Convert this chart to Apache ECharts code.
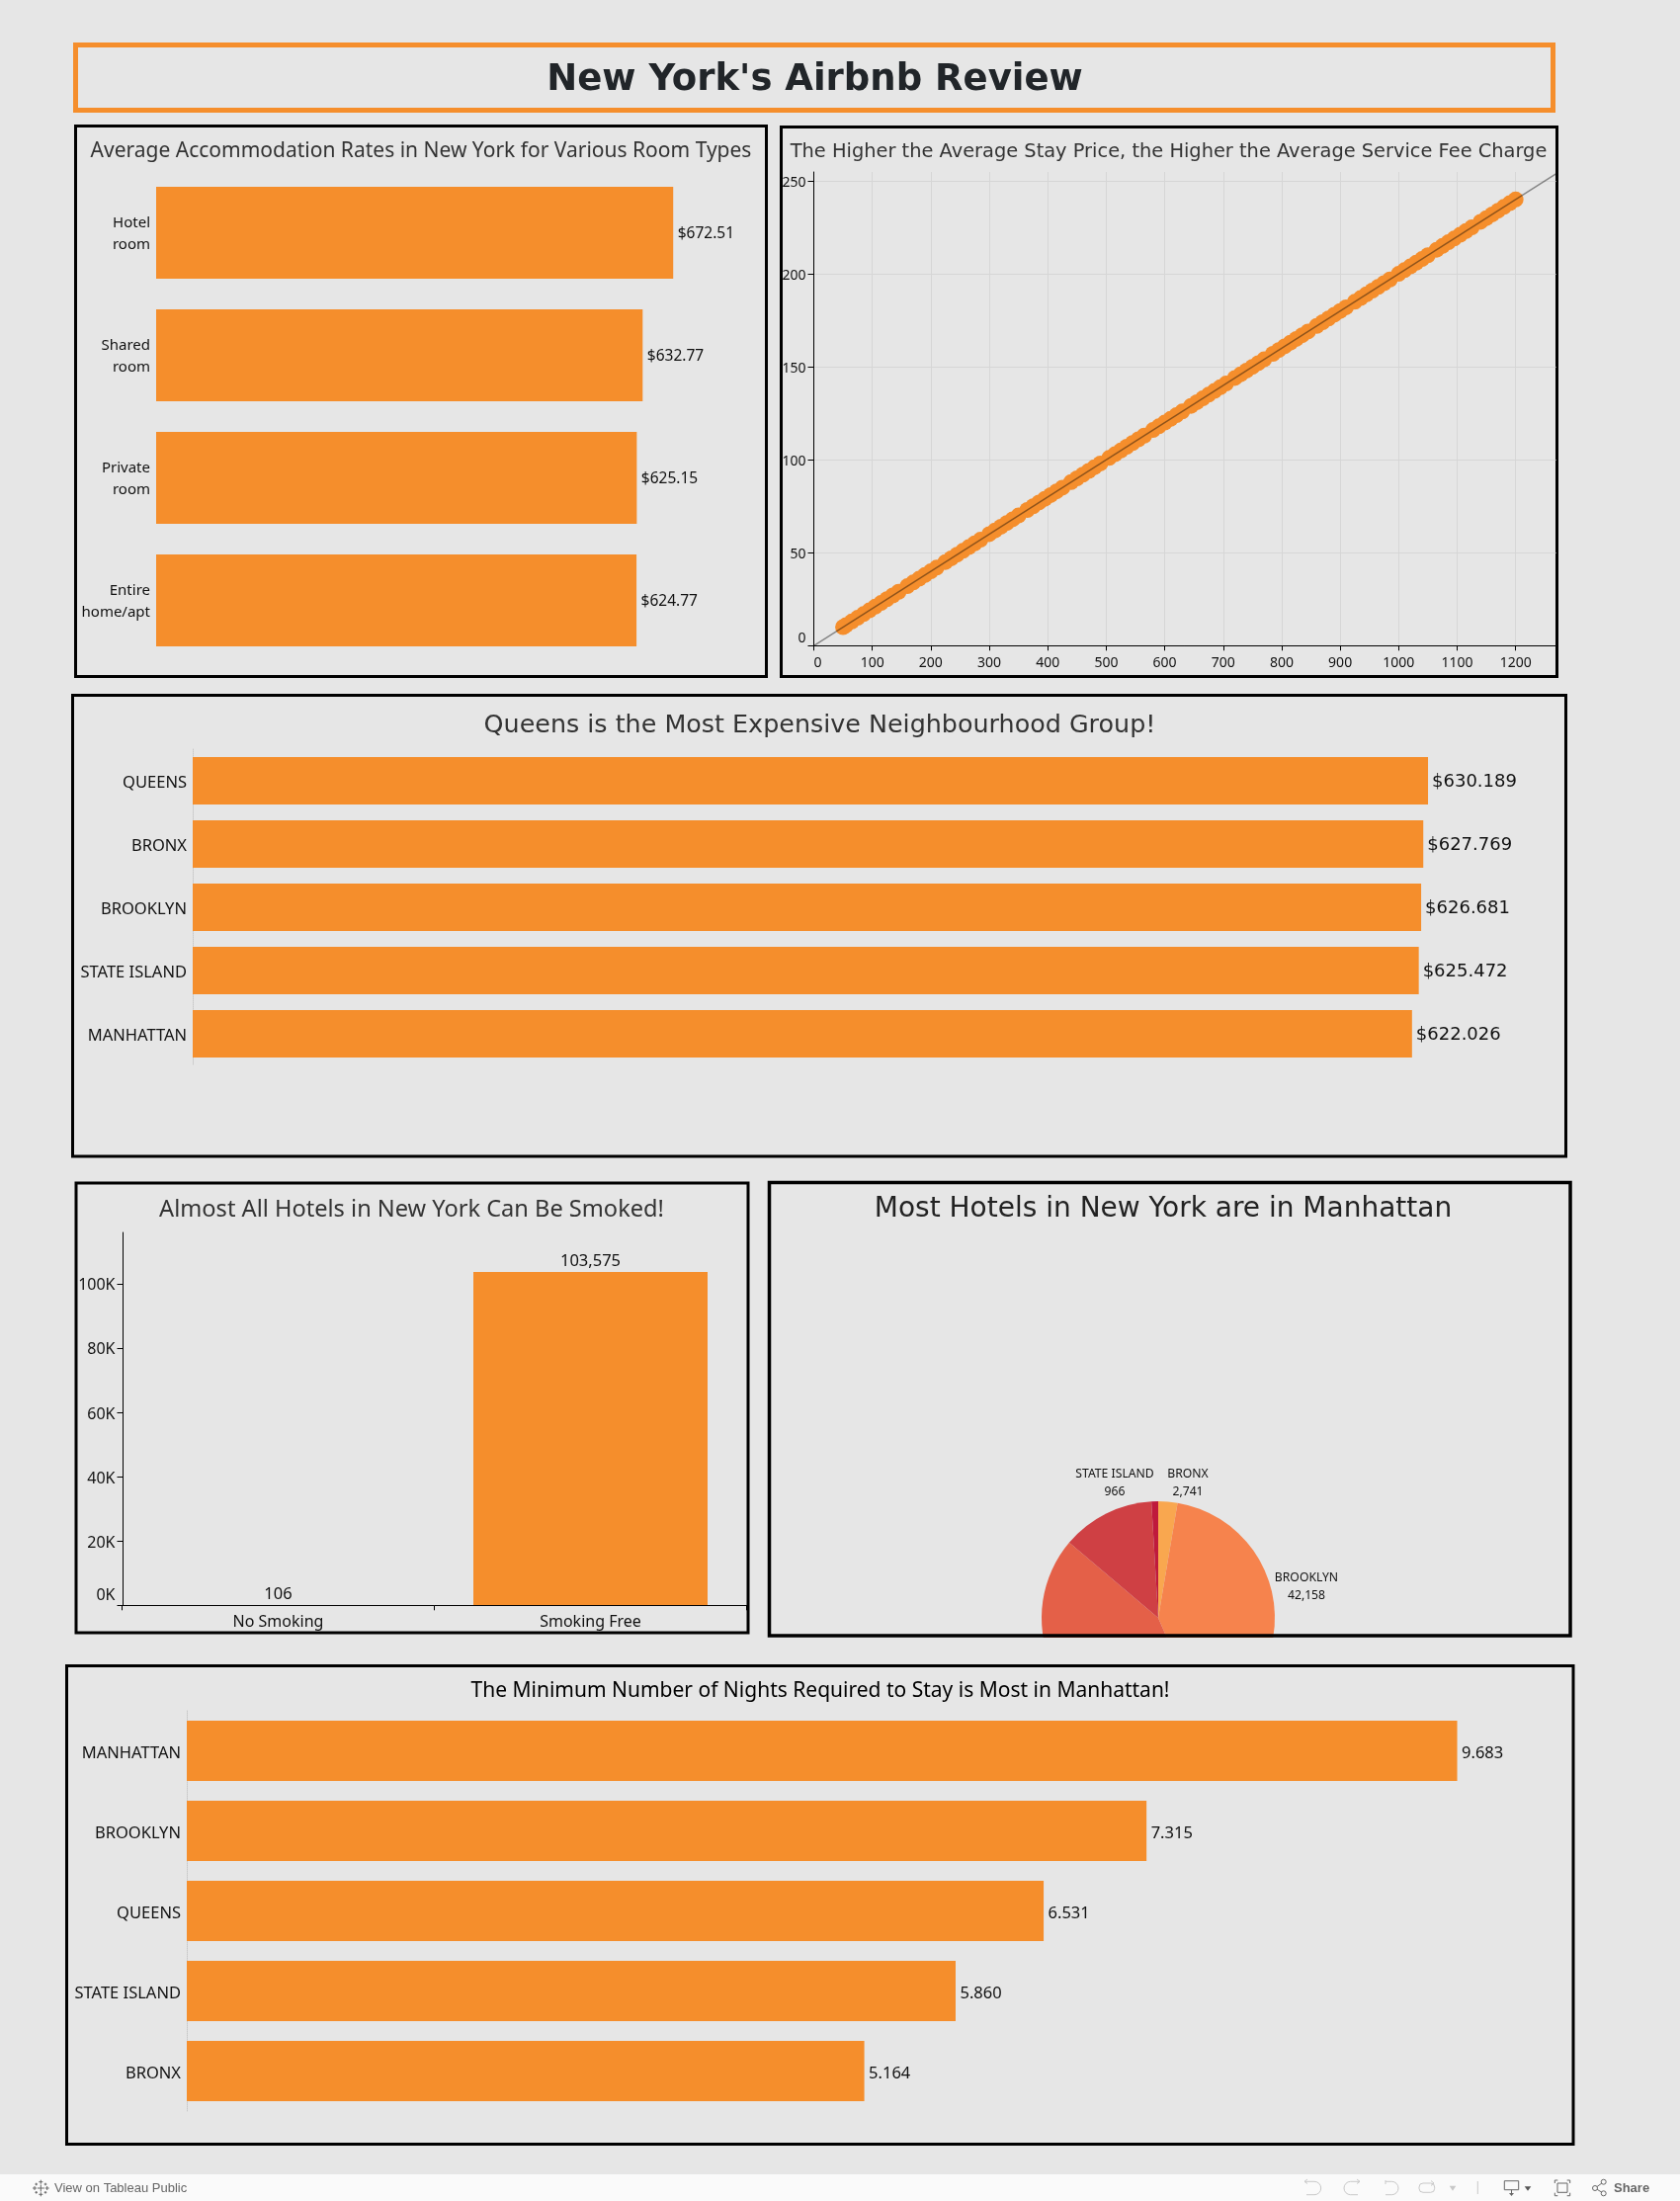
<!DOCTYPE html>
<html><head><meta charset="utf-8">
<style>html,body{margin:0;padding:0;background:#e6e6e6}#c{width:1700px;height:2227px}</style>
<script src="https://cdn.jsdelivr.net/npm/echarts@6/dist/echarts.min.js"></script>
</head><body><div id="c"></div>
<script>
// ---- data ----
const roomTypes = ['Hotel room','Shared room','Private room','Entire home/apt'];
const roomRates = [672.51,632.77,625.15,624.77];

const stayPrice = [50,55,65,75,85,95,105,115,125,135,145,160,170,180,190,200,210,225,235,245,255,265,275,285,300,310,320,330,340,350,365,375,385,395,405,415,425,440,450,460,470,480,490,505,515,525,535,545,555,565,580,590,600,610,620,630,645,655,665,675,685,695,705,720,730,740,750,760,770,785,795,805,815,825,835,845,860,870,880,890,900,910,925,935,945,955,965,975,985,1000,1010,1020,1030,1040,1050,1065,1075,1085,1095,1105,1115,1125,1140,1150,1160,1170,1180,1190,1200];
const serviceFee = [10,11,13,15,17,19,21,23,25,27,29,32,34,36,38,40,42,45,47,49,51,53,55,57,60,62,64,66,68,70,73,75,77,79,81,83,85,88,90,92,94,96,98,101,103,105,107,109,111,113,116,118,120,122,124,126,129,131,133,135,137,139,141,144,146,148,150,152,154,157,159,161,163,165,167,169,172,174,176,178,180,182,185,187,189,191,193,195,197,200,202,204,206,208,210,213,215,217,219,221,223,225,228,230,232,234,236,238,240];
const trendPrice = [0,1269];
const trendFee = [0,253.8];
const priceTicks = [0,100,200,300,400,500,600,700,800,900,1000,1100,1200];
const feeTicks = [0,50,100,150,200,250];

const groupsByPrice = ['QUEENS','BRONX','BROOKLYN','STATE ISLAND','MANHATTAN'];
const groupPrice = [630.189,627.769,626.681,625.472,622.026];

const smokingTypes = ['No Smoking','Smoking Free'];
const smokingCounts = [106,103575];
const smokingTicks = [0,20000,40000,60000,80000,100000];

const pieGroups = ['BRONX','BROOKLYN','MANHATTAN','QUEENS','STATE ISLAND'];
const pieCounts = [2741,42158,44100,13300,966];
const pieColors = ['#F9A74F','#F6834D','#E46048','#CF4044','#BF1A3C'];
const pieLabelled = ['BRONX','BROOKLYN','STATE ISLAND'];

const groupsByNights = ['MANHATTAN','BROOKLYN','QUEENS','STATE ISLAND','BRONX'];
const minNights = [9.683,7.315,6.531,5.860,5.164];

// ---- style ----
const ORANGE='#F58E2C', BG='#E6E6E6', NOTO='"Noto Sans"', DEJA='"DejaVu Sans"', UI='"Liberation Sans"';
const fmtInt=v=>v.toLocaleString('en-US');

function panel(x0,y0,x1,y1,color,lw){
  return {type:'rect',shape:{x:x0,y:y0,width:x1-x0,height:y1-y0},
    style:{fill:BG,stroke:color||'#000',lineWidth:lw||3}};
}
function head(text,cx,cy,font,size,color,weight){
  return {text,left:cx,top:cy,textAlign:'center',textVerticalAlign:'middle',padding:0,
    textStyle:{fontFamily:font,fontSize:size,color,fontWeight:weight||'normal'}};
}
function hbar(gridIndex,cats,vals,labelFont,labelSize,labelFmt,catSize,catFmt,axisDots,barW,labelDist,catTop,labelDrop){
  return {
    y:{type:'category',gridIndex,data:cats,inverse:true,
       axisTick:{show:false},
       axisLine:axisDots?{show:true,lineStyle:{color:'#c8c8c8',type:'dotted',width:1}}:{show:false},
       axisLabel:{fontFamily:NOTO,fontSize:catSize,color:'#111',margin:6,align:'right',verticalAlign:'top',lineHeight:22,
         interval:0,padding:[catTop,0,0,0],formatter:catFmt}},
    s:{type:'bar',xAxisIndex:gridIndex,yAxisIndex:gridIndex,data:vals,barWidth:barW,
       itemStyle:{color:ORANGE},
       label:{show:true,position:'right',distance:labelDist,offset:[0,labelDrop],fontFamily:labelFont,fontSize:labelSize,color:'#111',formatter:p=>labelFmt(p.value)}}
  };
}
// footer icon helpers
const ln=(pts,c,w)=>({type:'polyline',shape:{points:pts},style:{stroke:c,lineWidth:w||1,fill:'none'}});
const arc=(cx,cy,r,a0,a1,c)=>({type:'arc',shape:{cx,cy,r,startAngle:a0,endAngle:a1,clockwise:true},style:{stroke:c,lineWidth:1,fill:'none'}});
const tri=(x0,x1,y0,y1,c)=>({type:'polygon',shape:{points:[[x0,y0],[x1,y0],[(x0+x1)/2,y1]]},style:{fill:c}});
const box=(x0,y0,x1,y1,c,r)=>({type:'rect',shape:{x:x0,y:y0,width:x1-x0,height:y1-y0,r:r||0},style:{stroke:c,lineWidth:1,fill:'none'}});
const circ=(cx,cy,r,c)=>({type:'circle',shape:{cx,cy,r},style:{stroke:c,lineWidth:1,fill:'#FAFAFA'}});
const plus=(cx,cy,a,c)=>[ln([[cx-a,cy],[cx+a,cy]],c),ln([[cx,cy-a],[cx,cy+a]],c)];
const LG='#C8C8C8', DG='#666666', PI=Math.PI;
const footerIcons=[
  ...plus(41.3,2214,3.5,DG),...plus(41.3,2207.7,2,DG),...plus(41.3,2220.3,2,DG),...plus(35,2214,2,DG),...plus(47.7,2214,2,DG),
  ...plus(36.7,2210,1.3,DG),...plus(46,2210,1.3,DG),...plus(36.7,2218.3,1.3,DG),...plus(46,2218.3,1.3,DG),
  arc(1330,2214,6.7,-PI/2,PI/2,LG),ln([[1320,2207.3],[1330,2207.3]],LG),ln([[1322,2220.7],[1330,2220.7]],LG),ln([[1323,2205],[1320,2207.3],[1323,2209.5]],LG),
  {...arc(1366.7,2214,6.7,PI/2,-PI/2,LG)},ln([[1366.7,2207.3],[1376,2207.3]],LG),ln([[1366.7,2220.7],[1374,2220.7]],LG),ln([[1373,2205],[1376,2207.3],[1373,2209.5]],LG),
  arc(1408.3,2214,6.7,-PI/2,PI/2,LG),ln([[1402,2207.3],[1408.3,2207.3]],LG),ln([[1402,2220.7],[1408.3,2220.7]],LG),ln([[1402,2206],[1402,2210]],LG),
  box(1436,2209,1451.7,2218.3,LG,4),ln([[1448,2206.5],[1451,2209],[1448,2211.5]],LG),
  tri(1466.7,1473.3,2211.7,2216.7,LG),
  ln([[1495.3,2207],[1495.3,2220]],LG),
  box(1522.3,2206.7,1536.7,2215.7,DG),ln([[1529.5,2215.7],[1529.5,2221]],DG),tri(1527,1532,2219,2222,DG),
  tri(1542.7,1549.3,2212.3,2216.7,'#555'),
  ln([[1573.3,2209],[1573.3,2206],[1576.3,2206]],DG),ln([[1585.7,2206],[1588.7,2206],[1588.7,2209]],DG),
  ln([[1573.3,2218.7],[1573.3,2221.7],[1576.3,2221.7]],DG),ln([[1585.7,2221.7],[1588.7,2221.7],[1588.7,2218.7]],DG),
  box(1576,2209,1586,2218.3,DG),
  ln([[1622.7,2207.7],[1614,2214],[1622.7,2219.3]],DG),circ(1614,2214,2.5,DG),circ(1622.7,2207.7,2.5,DG),circ(1622.7,2219.3,2.5,DG)
];

const grids=[
  {left:158,top:173.5,width:583.5,height:496},      // room types
  {left:823.5,top:174,width:751,height:479.3},      // scatter
  {left:195,top:758,width:1388.5,height:320},       // neighbourhood price
  {left:123.5,top:1247,width:632,height:377.3},     // smoking
  {left:189,top:1731,width:1394,height:405}         // nights
];

const b0=hbar(0,roomTypes,roomRates,NOTO,15.5,v=>'$'+v.toFixed(2),15,v=>v==='Entire home/apt'?'Entire\nhome/apt':v.replace(' ','\n'),false,93,4.5,-21,1.5);
const b2=hbar(2,groupsByPrice,groupPrice,DEJA,18,v=>'$'+v.toFixed(3),16.5,v=>v,true,48,4,-9,1.5);
const b4=hbar(4,groupsByNights,minNights,NOTO,16.5,v=>v.toFixed(3),16.5,v=>v,true,61,4.5,-8,3);

const axisBlack={show:true,lineStyle:{color:'#000',width:1}};
const tickBlack={show:true,length:6,lineStyle:{color:'#000',width:1}};
const valueLabelShift=bottomPad=>({verticalAlign:'top',lineHeight:18,padding:[-7,0,bottomPad,0],verticalAlignMinLabel:'bottom'});

const option={
  animation:false,
  backgroundColor:BG,
  title:[
    head("New York's Airbnb Review",824.5,81,DEJA,37,'#212529','bold'),
    head('Average Accommodation Rates in New York for Various Room Types',426,153,NOTO,21,'#333'),
    head('The Higher the Average Stay Price, the Higher the Average Service Fee Charge',1182.5,154,DEJA,19.4,'#333'),
    head('Queens is the Most Expensive Neighbourhood Group!',829.5,734,DEJA,25.4,'#333'),
    head('Almost All Hotels in New York Can Be Smoked!',416.5,1224,NOTO,23.6,'#333'),
    head('Most Hotels in New York are in Manhattan',1177,1224,DEJA,28,'#222'),
    head('The Minimum Number of Nights Required to Stay is Most in Manhattan!',830,1711,NOTO,21,'#000')
  ],
  grid:grids.map(g=>({...g,containLabel:false})),
  xAxis:[
    {type:'value',gridIndex:0,min:0,max:750,show:false},
    {type:'value',gridIndex:1,min:0,max:1269,axisLine:{...axisBlack,onZero:false},
      axisTick:{show:true,length:5,lineStyle:{color:'#000'},customValues:priceTicks},
      axisLabel:{fontFamily:NOTO,fontSize:14,color:'#111',margin:11,customValues:priceTicks,hideOverlap:false,alignMinLabel:'left',formatter:v=>String(v)},
      splitLine:{show:true,lineStyle:{color:'#d6d6d6',width:1}}},
    {type:'value',gridIndex:2,min:0,max:700,show:false},
    {type:'category',gridIndex:3,data:smokingTypes,z:5,
      axisLine:axisBlack,axisTick:{show:true,length:5,alignWithLabel:false,lineStyle:{color:'#000'}},
      axisLabel:{fontFamily:NOTO,fontSize:16,color:'#111',margin:9}},
    {type:'value',gridIndex:4,min:0,max:10.5,show:false}
  ],
  yAxis:[
    b0.y,
    {type:'value',gridIndex:1,min:0,max:254.8,axisLine:axisBlack,
      axisTick:{...tickBlack,customValues:feeTicks},
      axisLabel:{fontFamily:NOTO,fontSize:14,color:'#111',margin:8,customValues:feeTicks,...valueLabelShift(-2)},
      splitLine:{show:true,lineStyle:{color:'#d6d6d6',width:1}}},
    b2.y,
    {type:'value',gridIndex:3,min:0,max:115900,offset:-1,axisLine:axisBlack,
      axisTick:{...tickBlack,customValues:smokingTicks},
      axisLabel:{fontFamily:NOTO,fontSize:16,color:'#111',margin:8,customValues:smokingTicks,...valueLabelShift(1),formatter:v=>(v/1000)+'K'},
      splitLine:{show:false}},
    b4.y
  ],
  series:[
    b0.s,
    {type:'scatter',xAxisIndex:1,yAxisIndex:1,symbolSize:16,itemStyle:{color:ORANGE,opacity:1},
      data:stayPrice.map((x,i)=>[x,serviceFee[i]]),z:3},
    {type:'line',xAxisIndex:1,yAxisIndex:1,symbol:'none',silent:true,z:4,
      lineStyle:{color:'rgba(0,0,0,0.42)',width:1.5},
      data:trendPrice.map((x,i)=>[x,trendFee[i]])},
    b2.s,
    {type:'bar',xAxisIndex:3,yAxisIndex:3,data:smokingCounts,barWidth:237,
      itemStyle:{color:ORANGE},
      label:{show:true,position:'top',distance:2.5,fontFamily:NOTO,fontSize:16.5,color:'#111',formatter:p=>fmtInt(p.value)}},
    b4.s,
    {type:'pie',z:-2,center:[1172,1637],radius:[0,118],startAngle:90,clockwise:true,silent:true,
      avoidLabelOverlap:false,
      data:pieGroups.map((name,i)=>({name,value:pieCounts[i],itemStyle:{color:pieColors[i]},
        label:{show:pieLabelled.includes(name)},labelLine:{show:false}})),
      label:{position:'outside',fontFamily:NOTO,fontSize:12.2,color:'#111',lineHeight:18,align:'center',
        formatter:p=>p.name+'\n'+fmtInt(p.value)},
      labelLayout:p=>{
        const at={0:[1202,1501],1:[1322,1606],4:[1128,1501]}[p.dataIndex];
        return at?{x:at[0],y:at[1],align:'center',verticalAlign:'middle'}:{};
      }}
  ],
  graphic:{z:-1,elements:[
    // covers and frames
    {type:'rect',shape:{x:0,y:1657,width:1700,height:29},style:{fill:BG}},
    panel(76.5,45.5,1571.5,111.5,ORANGE,5),
    panel(76.5,127.5,775.5,684.5),
    panel(790.5,128.5,1575.5,684.5),
    panel(73.5,703.5,1584.5,1170),
    panel(77,1197,757,1652),
    {type:'rect',shape:{x:778.5,y:1196.5,width:810.5,height:458.5},style:{fill:'none',stroke:'#000',lineWidth:3.5}},
    panel(67.5,1685.5,1592,2169.5),
    {type:'rect',shape:{x:0,y:2200,width:1700,height:27},style:{fill:'#FAFAFA'}},
    {type:'text',x:55,y:2214,style:{text:'View on Tableau Public',fontFamily:UI,fontSize:13,fill:'#666',verticalAlign:'middle'}},
    {type:'text',x:1633,y:2214,style:{text:'Share',fontFamily:UI,fontSize:13,fontWeight:'bold',fill:'#666',verticalAlign:'middle'}},
    ...footerIcons
  ]}
};
const chart=echarts.init(document.getElementById('c'),null,{renderer:'canvas'});
chart.setOption(option);
</script></body></html>
